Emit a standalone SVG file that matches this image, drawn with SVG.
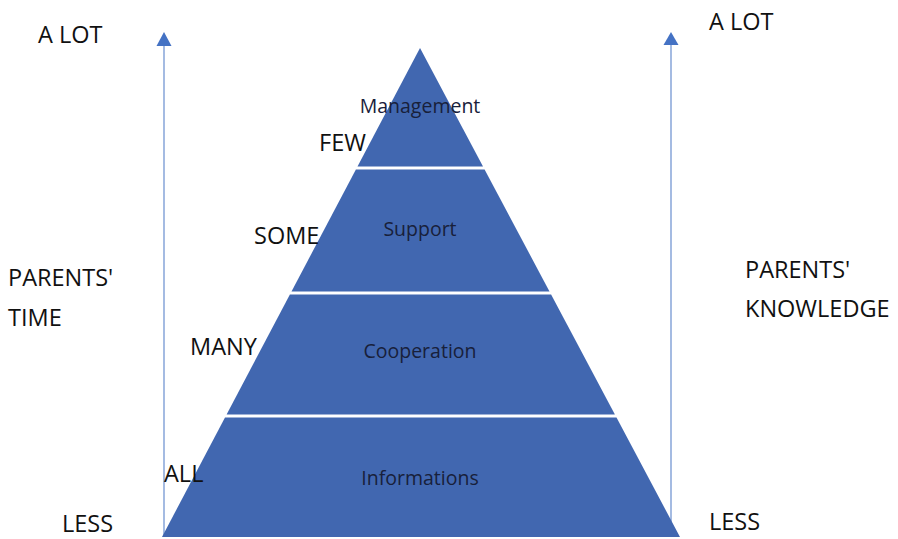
<svg xmlns="http://www.w3.org/2000/svg" width="898" height="539" viewBox="0 0 898 539">
<style>
.band{fill:#4167b0;}
.in{font-family:"Open Sans","Noto Sans",sans-serif;font-size:19.5px;fill:#18203a;text-anchor:middle;}
.out{font-family:"Open Sans","Noto Sans",sans-serif;font-size:23.5px;fill:#111111;}
.axis{stroke:#8eaadb;stroke-width:1.6;fill:none;}
.head{fill:#4472c4;}
</style>
<rect width="898" height="539" fill="#ffffff"/>
<g id="connectors">
<line class="axis" x1="164" y1="537" x2="164" y2="46"/>
<polygon class="head" points="164,32 156.5,46 171.5,46"/>
<line class="axis" x1="671" y1="537" x2="671" y2="45"/>
<polygon class="head" points="671,32 663.5,45 678.5,45"/>
</g>
<g id="management">
<polygon class="band" points="420,48 483,166.5 357.5,166.5"/>
<text class="in" x="420" y="113">Management</text>
</g>
<g id="support">
<polygon class="band" points="355.9,169.5 484.6,169.5 549.5,291.5 291.5,291.5"/>
<text class="in" x="420" y="236">Support</text>
</g>
<g id="cooperation">
<polygon class="band" points="289.9,294.5 551.1,294.5 614.9,414.5 226.6,414.5"/>
<text class="in" x="420" y="358">Cooperation</text>
</g>
<g id="informations">
<polygon class="band" points="225,417.5 616.5,417.5 680,537 162,537"/>
<text class="in" x="420" y="485">Informations</text>
</g>
<g id="labels">
<text class="out" x="38" y="43">A LOT</text>
<text class="out" x="709" y="30">A LOT</text>
<text class="out" x="319" y="151">FEW</text>
<text class="out" x="254" y="244">SOME</text>
<text class="out" x="190" y="355">MANY</text>
<text class="out" x="164" y="482">ALL</text>
<text class="out" x="62" y="532">LESS</text>
<text class="out" x="709" y="530">LESS</text>
<text class="out" x="8" y="286">PARENTS'</text>
<text class="out" x="8" y="326">TIME</text>
<text class="out" x="745" y="278">PARENTS'</text>
<text class="out" x="745" y="317">KNOWLEDGE</text>
</g>
</svg>
